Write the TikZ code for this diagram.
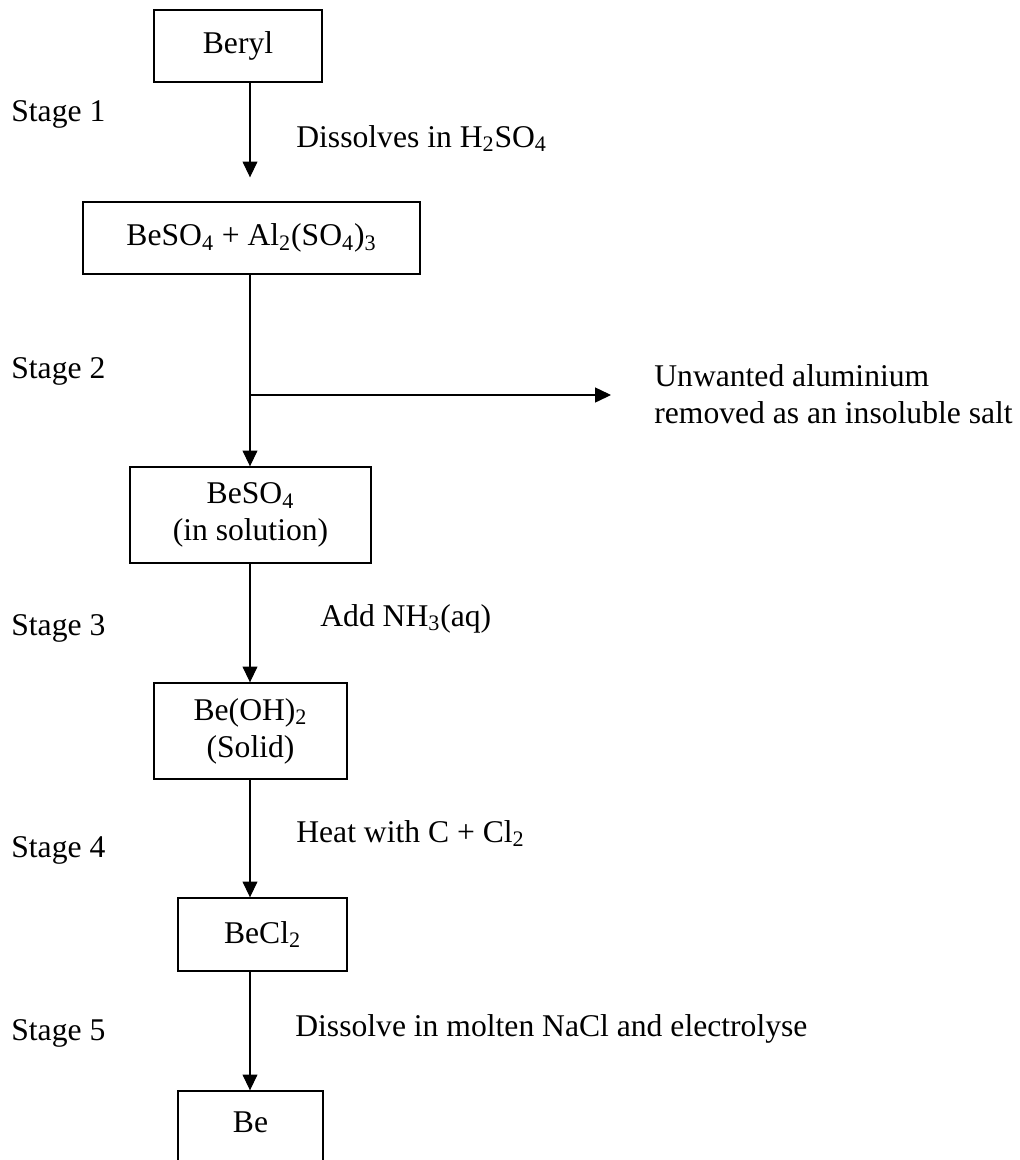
\documentclass[tikz,border=0pt]{standalone}
\usepackage{fontspec}
\setmainfont{Liberation Serif}
\usetikzlibrary{arrows.meta,positioning,calc}

\begin{document}
\begin{tikzpicture}[x=0.02cm,y=-0.02cm,
    >={Triangle[length=9pt,width=8.5pt]},
    font=\fontsize{18}{21}\selectfont,
    box/.style={draw,line width=0.8pt,inner sep=0pt,align=center},
    label text/.style={anchor=base west,inner sep=0pt},
    flow/.style={->,line width=0.6pt}]
  \useasboundingbox (0,0) rectangle (1020,1160);
  \coordinate (spine) at (250,0);

  % the boxes
  \node[box,minimum width=3.36cm,minimum height=1.44cm] (beryl) at (238,46) {Beryl};
  \node[box,minimum width=6.74cm,minimum height=1.44cm] (mix) at (251.5,238)
    {BeSO\textsubscript{4} + Al\textsubscript{2}(SO\textsubscript{4})\textsubscript{3}};
  \node[box,minimum width=4.82cm,minimum height=1.92cm] (sulfate) at (250.5,515)
    {BeSO\textsubscript{4}\\(in solution)};
  \node[box,minimum width=3.86cm,minimum height=1.92cm] (hydroxide) at (250.5,731)
    {Be(OH)\textsubscript{2}\\(Solid)};
  \node[box,minimum width=3.38cm,minimum height=1.46cm] (chloride) at (262.5,934.5)
    {BeCl\textsubscript{2}};
  \node[box,minimum width=2.9cm,minimum height=1.8cm,
    text height=0.42cm,text depth=0.58cm] (metal) at (250.5,1136) {Be};

  % stages
  \node[label text] (stage1) at (11,121) {Stage 1};
  \node[label text] (stage2) at (11,378) {Stage 2};
  \node[label text] (stage3) at (11,635) {Stage 3};
  \node[label text] (stage4) at (11,857) {Stage 4};
  \node[label text] (stage5) at (11,1040) {Stage 5};

  % what is done at each stage
  \node[label text] (acid) at (296,147) {Dissolves in H\textsubscript{2}SO\textsubscript{4}};
  \node[label text] (ammonia) at (320,626) {Add NH\textsubscript{3}(aq)};
  \node[label text] (heat) at (296,842) {Heat with C + Cl\textsubscript{2}};
  \node[label text] (melt) at (295,1036) {Dissolve in molten NaCl and electrolyse};
  \node[label text,align=left] (waste text) at (654,423)
    {Unwanted aluminium\\removed as an insoluble salt};

  \coordinate (split) at (250,395);
  \coordinate (waste) at (611,395);

  \path[flow] (beryl.south -| spine) edge[shorten >=0.48cm] (mix.north -| spine);
  \path[flow] (mix.south -| spine) edge (sulfate.north -| spine);
  \path[flow] (split) edge (waste);
  \path[flow] (sulfate.south -| spine) edge (hydroxide.north -| spine);
  \path[flow] (hydroxide.south -| spine) edge (chloride.north -| spine);
  \path[flow] (chloride.south -| spine) edge (metal.north -| spine);
\end{tikzpicture}
\end{document}
